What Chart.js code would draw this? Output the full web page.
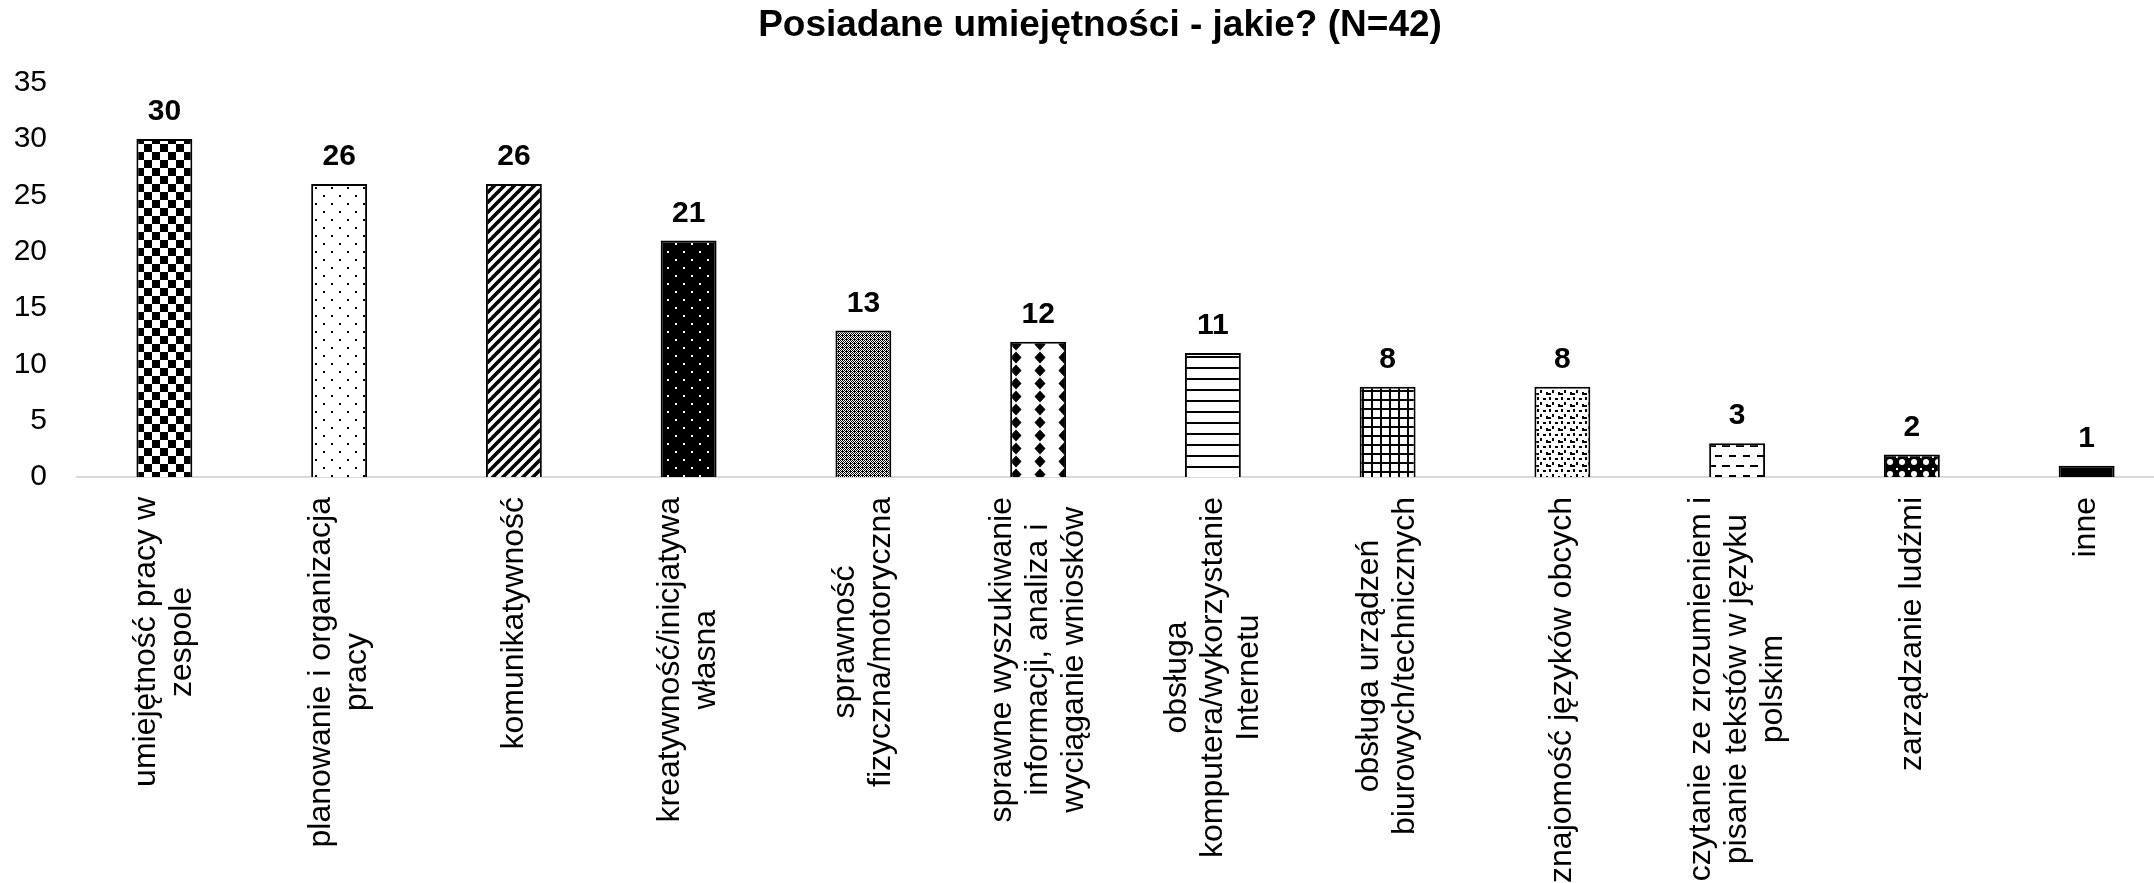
<!DOCTYPE html>
<html>
<head>
<meta charset="utf-8">
<script src="https://cdn.jsdelivr.net/npm/chart.js@4.4.1/dist/chart.umd.min.js"></script>
<style>
  html, body { margin: 0; padding: 0; background: #fff; overflow: hidden; }
  #wrap { position: absolute; left: 0; top: 0; width: 2200px; height: 883px; }
</style>
</head>
<body>
<div id="wrap"><canvas id="c" width="2200" height="883"></canvas></div>
<script>
// ---- data ----
const titleText = "Posiadane umiejętności - jakie? (N=42)";
const categories = [
  ["umiejętność pracy w", "zespole"],
  ["planowanie i organizacja", "pracy"],
  ["komunikatywność"],
  ["kreatywność/inicjatywa", "własna"],
  ["sprawność", "fizyczna/motoryczna"],
  ["sprawne wyszukiwanie", "informacji, analiza i", "wyciąganie wniosków"],
  ["obsługa", "komputera/wykorzystanie", "Internetu"],
  ["obsługa urządzeń", "biurowych/technicznych"],
  ["znajomość języków obcych"],
  ["czytanie ze zrozumieniem i", "pisanie tekstów w języku", "polskim"],
  ["zarządzanie ludźmi"],
  ["inne"]
];
const counts = [30, 26, 26, 21, 13, 12, 11, 8, 8, 3, 2, 1];
const yMin = 0, yMax = 35, yStep = 5;

// ---- fill patterns (styling) ----
function makePattern(w, h, bg, draw) {
  const cv = document.createElement('canvas');
  cv.width = w; cv.height = h;
  const g = cv.getContext('2d');
  g.fillStyle = bg; g.fillRect(0, 0, w, h);
  g.fillStyle = '#000'; g.strokeStyle = '#000';
  draw(g);
  return g.createPattern(cv, 'repeat');
}
const patterns = [
  // large checkerboard
  makePattern(16, 16, '#fff', g => { g.fillRect(0, 0, 8, 8); g.fillRect(8, 8, 8, 8); }),
  // sparse dots
  makePattern(16, 16, '#fff', g => { g.fillRect(3, 3, 2, 2); g.fillRect(11, 11, 2, 2); }),
  // wide upward diagonal
  makePattern(10, 10, '#fff', g => {
    g.lineWidth = 3.6;
    for (let k = -1; k <= 1; k++) { g.beginPath(); g.moveTo(-2 + k * 10, 12); g.lineTo(12 + k * 10, -2); g.stroke(); }
  }),
  // black with white dots
  makePattern(16, 16, '#000', g => { g.fillStyle = '#fff'; g.fillRect(3, 3, 2, 2); g.fillRect(11, 11, 2, 2); }),
  // fine crosshatch
  makePattern(4, 4, '#fff', g => {
    g.fillRect(0, 0, 1, 1); g.fillRect(2, 0, 1, 1); g.fillRect(1, 1, 1, 1); g.fillRect(3, 1, 1, 1);
    g.fillRect(0, 2, 1, 1); g.fillRect(2, 2, 1, 1); g.fillRect(1, 3, 2, 1); g.fillRect(3, 3, 1, 1);
  }),
  // solid diamonds
  makePattern(24, 13, '#fff', g => {
    g.beginPath(); g.moveTo(8, 0.5); g.lineTo(13.5, 6.5); g.lineTo(8, 12.5); g.lineTo(2.5, 6.5); g.closePath(); g.fill();
  }),
  // horizontal lines
  makePattern(8, 11, '#fff', g => { g.fillRect(0, 4, 8, 2); }),
  // small grid
  makePattern(9, 9, '#fff', g => { g.fillRect(0, 3, 9, 2); g.fillRect(3, 0, 2, 9); }),
  // large confetti
  makePattern(12, 12, '#fff', g => {
    g.fillRect(1, 1, 2, 3); g.fillRect(7, 2, 3, 2); g.fillRect(4, 6, 2, 3);
    g.fillRect(10, 8, 2, 3); g.fillRect(0, 9, 3, 2);
  }),
  // dashed horizontal
  makePattern(14, 20, '#fff', g => { g.fillRect(0, 5, 8, 2); g.fillRect(7, 15, 8, 2); }),
  // black with white holes
  makePattern(12, 12, '#000', g => {
    g.fillStyle = '#fff';
    g.beginPath(); g.arc(6, 6, 3, 0, Math.PI * 2); g.fill();
    g.fillRect(0, 0, 2, 2);
  }),
  // solid
  '#000'
];

// ---- plugins ----
const valueLabels = {
  id: 'valueLabels',
  afterDatasetsDraw(chart) {
    const ctx = chart.ctx;
    const meta = chart.getDatasetMeta(0);
    ctx.save();
    ctx.fillStyle = '#000';
    ctx.font = 'bold 30px "Liberation Sans", Arial, sans-serif';
    ctx.textAlign = 'center';
    ctx.textBaseline = 'middle';
    meta.data.forEach((bar, i) => {
      ctx.fillText(String(chart.data.datasets[0].data[i]), bar.x, bar.y - 27);
    });
    ctx.restore();
  }
};
const categoryLabels = {
  id: 'categoryLabels',
  afterDraw(chart) {
    const ctx = chart.ctx;
    const xs = chart.scales.x;
    const top = chart.chartArea.bottom + 20;
    const lh = 36;
    ctx.save();
    ctx.fillStyle = '#000';
    ctx.font = '32px "Liberation Sans", Arial, sans-serif';
    ctx.textAlign = 'center';
    ctx.textBaseline = 'middle';
    chart.data.labels.forEach((lines, i) => {
      const x = xs.getPixelForValue(i);
      const maxW = Math.max(...lines.map(l => ctx.measureText(l).width));
      ctx.save();
      ctx.translate(x, top);
      ctx.rotate(-Math.PI / 2);
      lines.forEach((l, k) => {
        ctx.fillText(l, -maxW / 2, (k - (lines.length - 1) / 2) * lh);
      });
      ctx.restore();
    });
    ctx.restore();
  }
};

new Chart(document.getElementById('c'), {
  type: 'bar',
  data: {
    labels: categories,
    datasets: [{
      data: counts,
      backgroundColor: patterns,
      borderColor: '#000',
      borderWidth: 2,
      borderSkipped: 'start',
      categoryPercentage: 1.0,
      barPercentage: 0.32
    }]
  },
  options: {
    responsive: false,
    animation: false,
    devicePixelRatio: 1,
    layout: { padding: 0 },
    plugins: {
      legend: { display: false },
      tooltip: { enabled: false },
      title: {
        display: true,
        text: titleText,
        color: '#000',
        font: { family: '"Liberation Sans", Arial, sans-serif', size: 37, weight: 'bold', lineHeight: 1.2 },
        padding: { top: 4.0, bottom: 34.3 }
      }
    },
    scales: {
      x: {
        grid: { display: false, drawTicks: false },
        border: { display: true, color: '#d9d9d9', width: 2 },
        ticks: { display: false },
        afterFit(s) { s.height = 406; }
      },
      y: {
        min: yMin, max: yMax,
        grid: { display: false, drawTicks: false },
        border: { display: false },
        ticks: {
          stepSize: yStep,
          padding: 30,
          color: '#000',
          font: { family: '"Liberation Sans", Arial, sans-serif', size: 30 }
        },
        afterFit(s) { s.width = 77; }
      },
      yRight: {
        type: 'linear',
        position: 'right',
        display: true,
        grid: { display: false, drawTicks: false },
        border: { display: false },
        ticks: { display: false },
        afterFit(s) { s.width = 26; }
      }
    }
  },
  plugins: [valueLabels, categoryLabels]
});
</script>
</body>
</html>
